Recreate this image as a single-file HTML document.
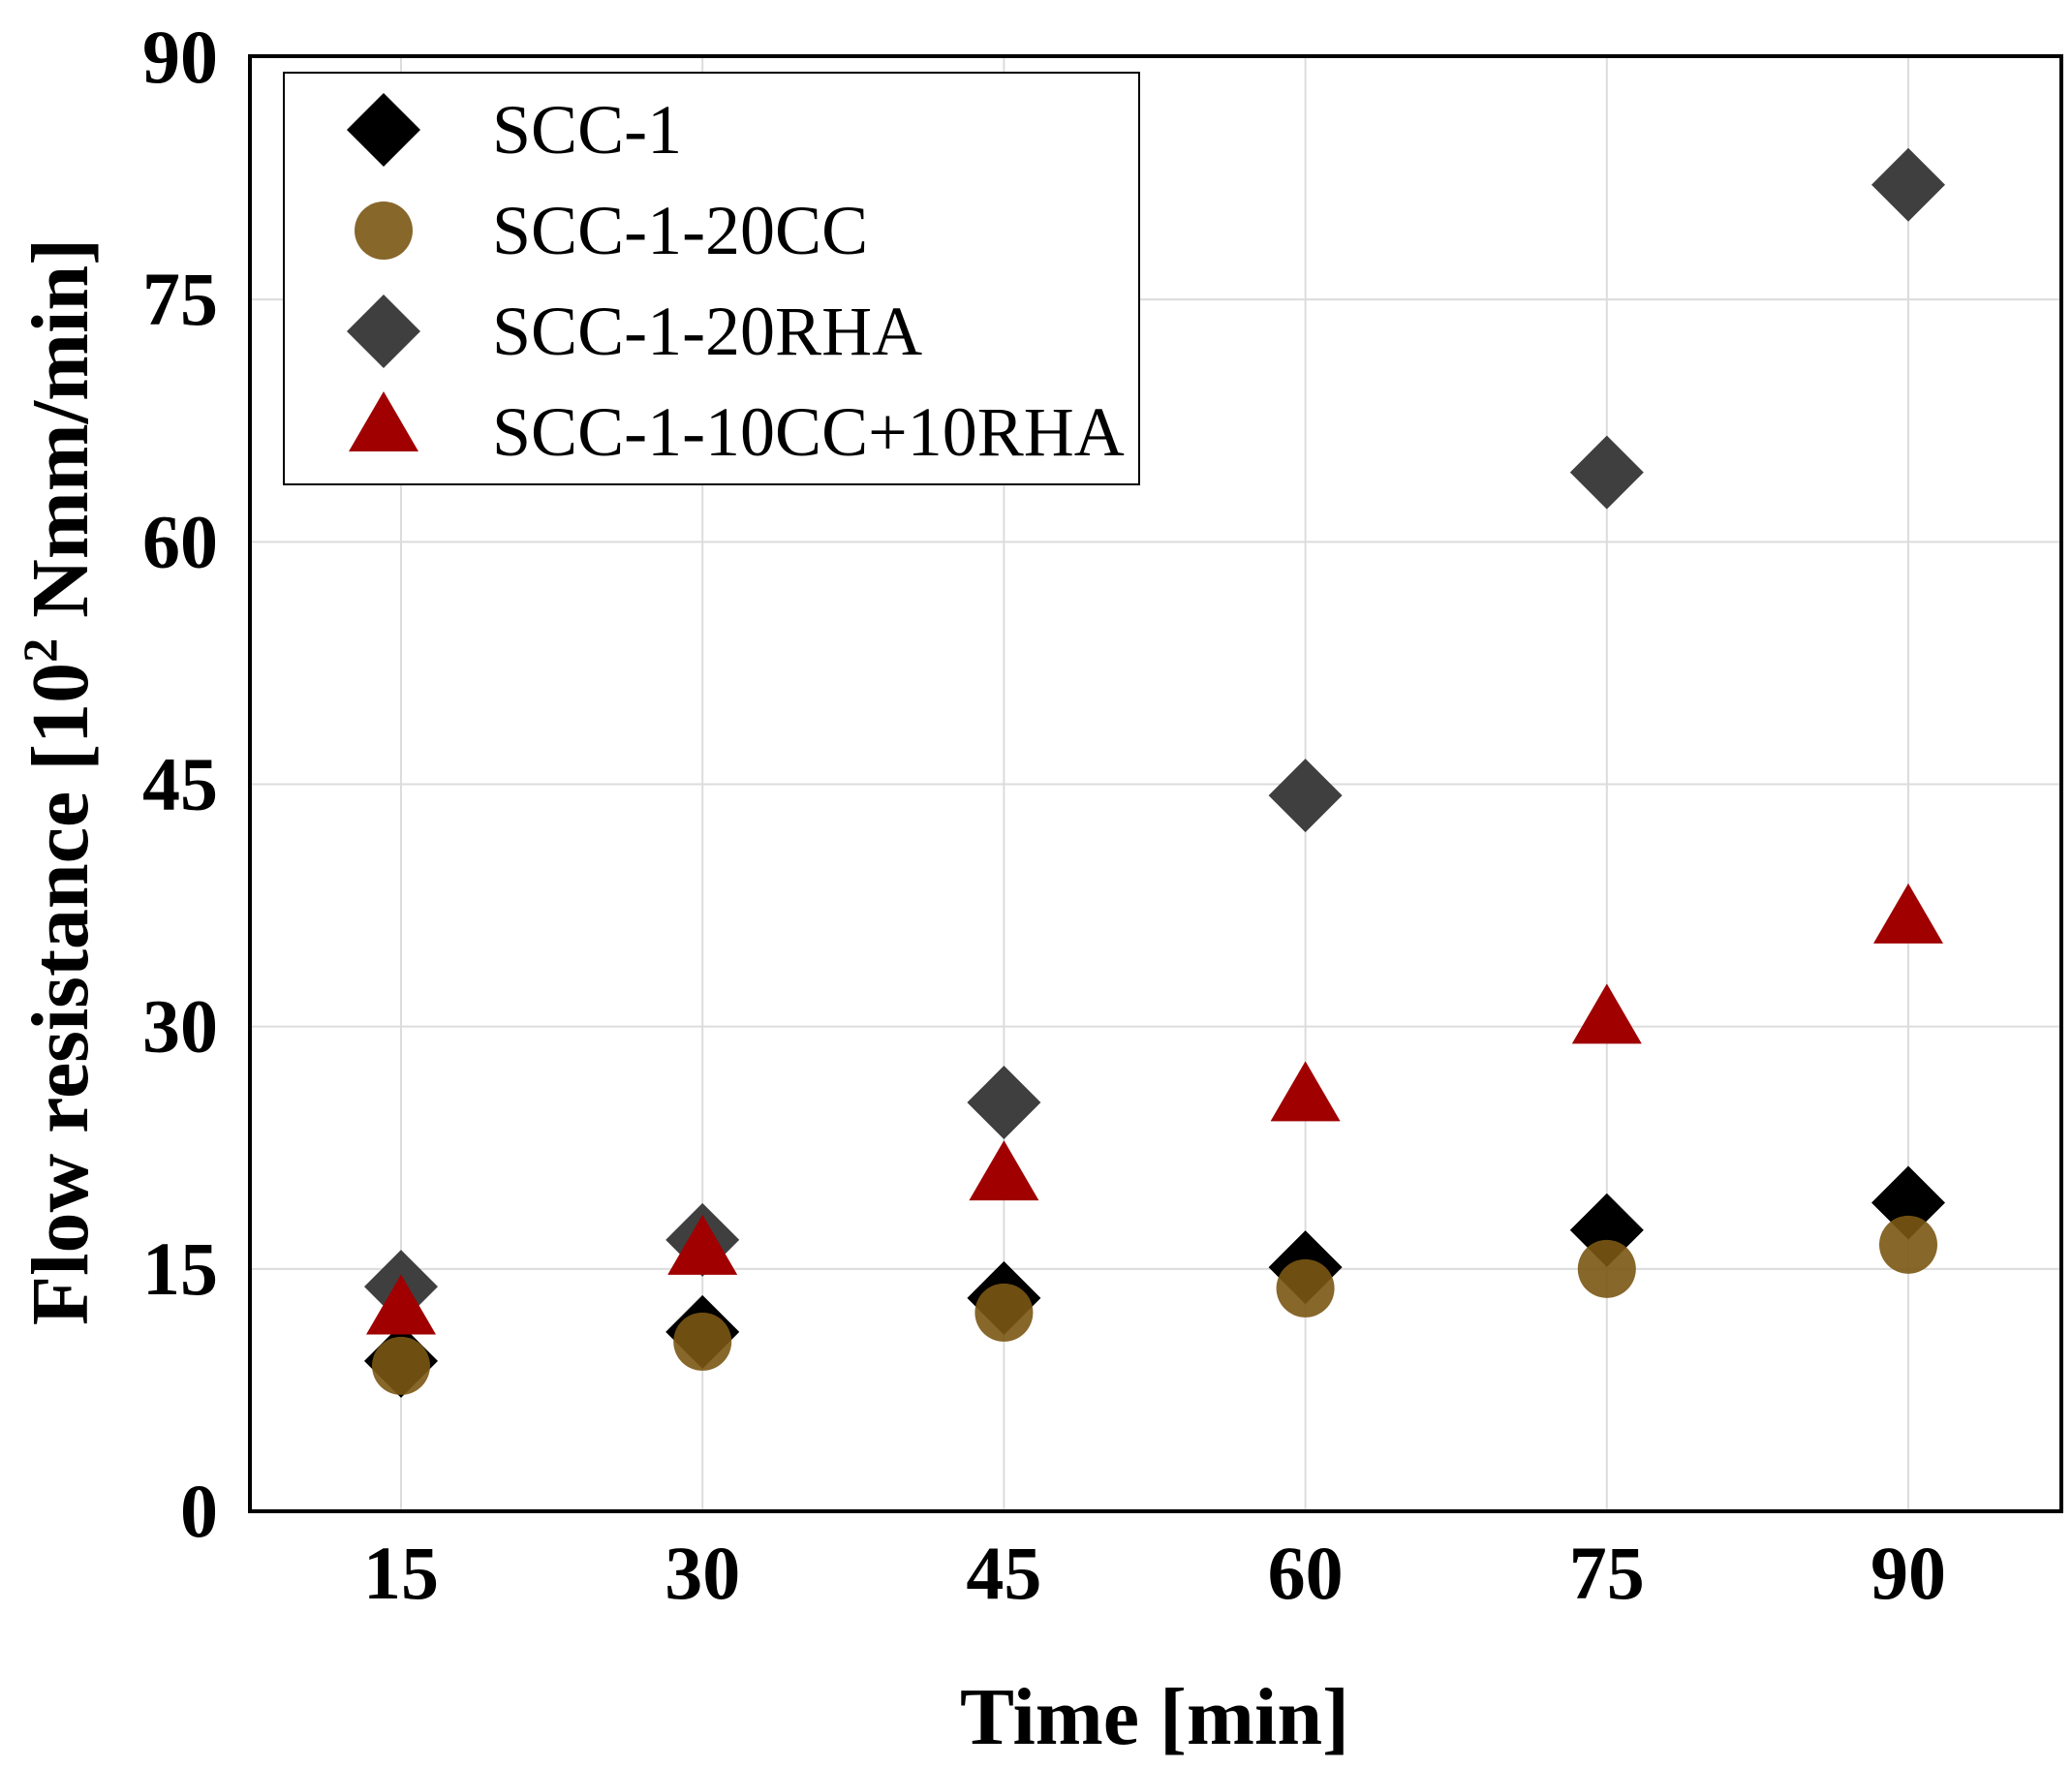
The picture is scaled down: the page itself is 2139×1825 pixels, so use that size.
<!DOCTYPE html>
<html><head><meta charset="utf-8"><style>
html,body{margin:0;padding:0;background:#fff;}
svg{display:block;}
</style></head><body>
<svg id="chart" width="2139" height="1825" viewBox="0 0 2139 1825" xmlns="http://www.w3.org/2000/svg">
<g id="grid"></g>
<g id="marks"></g>
<rect x="258" y="58" width="1870" height="1502" fill="none" stroke="#000" stroke-width="4"/>
<g id="ticks" font-family="Liberation Serif, serif" font-weight="bold" font-size="78" fill="#000"></g>
<text x="1192" y="1800" text-anchor="middle" font-family="Liberation Serif, serif" font-weight="bold" font-size="84">Time [min]</text>
<text transform="translate(90,807) rotate(-90)" text-anchor="middle" font-family="Liberation Serif, serif" font-weight="bold" font-size="84">Flow resistance [10<tspan font-size="50" dy="-32">2</tspan><tspan dy="32"> Nmm/min]</tspan></text>
<g>
<rect x="293" y="75" width="883" height="425" fill="#fff" stroke="#000" stroke-width="2"/>
<polygon points="396,96 434,134 396,172 358,134" fill="#000"/>
<circle cx="396" cy="238" r="30" fill="#7a5713" fill-opacity="0.9"/>
<polygon points="396,304 434,342 396,380 358,342" fill="#3f3f3f"/>
<polygon points="396,404 432,466 360,466" fill="#a00000"/>
<g font-family="Liberation Serif, serif" font-size="72" fill="#000">
<text x="508" y="158">SCC-1</text>
<text x="508" y="262">SCC-1-20CC</text>
<text x="508" y="366">SCC-1-20RHA</text>
<text x="508" y="470">SCC-1-10CC+10RHA</text>
</g></g>
</svg>
<script>
const categories = [15, 30, 45, 60, 75, 90];
const scc1 = [9.3, 11.1, 13.2, 15.1, 17.4, 19.1];
const scc20cc = [9.0, 10.5, 12.3, 13.8, 15.0, 16.5];
const scc20rha = [13.9, 16.8, 25.3, 44.3, 64.3, 82.1];
const scc10cc10rha = [12.5, 16.2, 20.8, 25.7, 30.5, 36.7];
const yTicks = [0, 15, 30, 45, 60, 75, 90];
const xTicks = [15, 30, 45, 60, 75, 90];
const NS = 'http://www.w3.org/2000/svg';
function xs(v){ return 414 + (v - 15) * (1970 - 414) / 75; }
function ys(v){ return 1560 - v * (1560 - 59) / 90; }
const grid = document.getElementById('grid');
const ticks = document.getElementById('ticks');
const marks = document.getElementById('marks');
function mk(tag, attrs, parent){ const e=document.createElementNS(NS,tag); for(const k in attrs) e.setAttribute(k,attrs[k]); parent.appendChild(e); return e; }
yTicks.forEach(t=>{
  const l = mk('line',{x1:258,x2:2128,y1:ys(t),y2:ys(t),stroke:'#dcdcdc','stroke-width':2},grid);
  
  
  const tx = mk('text',{x:225,y:ys(t)+26,'text-anchor':'end'},ticks);
  tx.textContent = t;
  
  
});
xTicks.forEach(t=>{
  const l = mk('line',{x1:xs(t),x2:xs(t),y1:58,y2:1560,stroke:'#dcdcdc','stroke-width':2},grid);
  
  
  const tx = mk('text',{x:xs(t),y:1650,'text-anchor':'middle'},ticks);
  tx.textContent = t;
  
  
});
function diamond(x,y,c){ return mk('polygon',{points:`${x},${y-38} ${x+38},${y} ${x},${y+38} ${x-38},${y}`,fill:c},marks); }
categories.forEach((c,i)=>{
  const d1 = diamond(xs(c), ys(scc20rha[i]), '#3f3f3f');
  
  
  const d2 = diamond(xs(c), ys(scc1[i]), '#000');
  
  
  const ci = mk('circle',{cx:xs(c),cy:ys(scc20cc[i]),r:30,fill:'#7a5713','fill-opacity':0.9},marks);
  
  
  const x=xs(c), y=ys(scc10cc10rha[i]);
  const tr = mk('polygon',{points:`${x},${y-36} ${x+36},${y+26} ${x-36},${y+26}`,fill:'#a00000'},marks);
  
  
});
</script>
</body></html>
